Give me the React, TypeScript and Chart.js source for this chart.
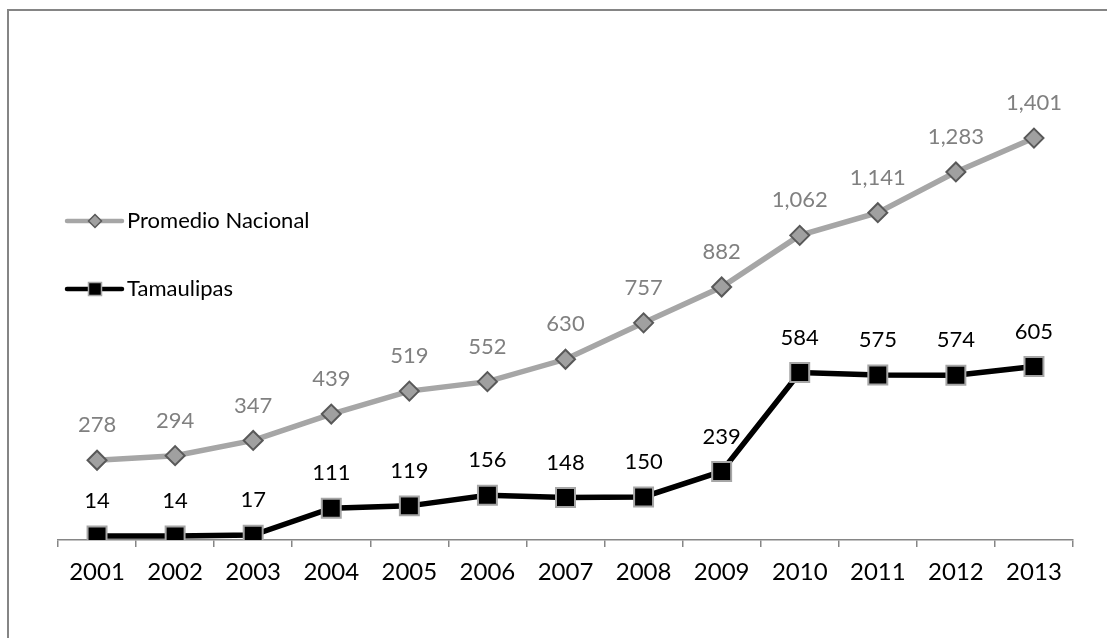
import React, { useEffect, useRef } from 'react';
import { Chart, registerables } from 'chart.js';

Chart.register(...registerables);

const years = ['2001', '2002', '2003', '2004', '2005', '2006', '2007', '2008', '2009', '2010', '2011', '2012', '2013'];
const promedioNacional = [278, 294, 347, 439, 519, 552, 630, 757, 882, 1062, 1141, 1283, 1401];
const tamaulipas = [14, 14, 17, 111, 119, 156, 148, 150, 239, 584, 575, 574, 605];
const seriesNames = ['Promedio Nacional', 'Tamaulipas'];

const FONT = "Lato, 'Open Sans', sans-serif";
const GRAY_LINE = '#a6a6a6';
const GRAY_LABEL = '#808080';

const dataLabelPlugin = {
  id: 'dataLabels',
  afterDatasetsDraw(chart: any) {
    const ctx = chart.ctx;
    ctx.save();
    ctx.font = `22px ${FONT}`;
    ctx.textAlign = 'center';
    ctx.textBaseline = 'middle';
    chart.data.datasets.forEach((ds: any, i: number) => {
      const meta = chart.getDatasetMeta(i);
      ctx.fillStyle = ds.labelColor;
      meta.data.forEach((pt: any, j: number) => {
        const v = ds.data[j] as number;
        ctx.fillText(v.toLocaleString('en-US'), pt.x, pt.y - 35);
      });
    });
    ctx.restore();
  },
};

const legendPlugin = {
  id: 'customLegend',
  afterDatasetsDraw(chart: any) {
    const ctx = chart.ctx;
    const rows = [
      { y: 221, ds: chart.data.datasets[0] },
      { y: 289, ds: chart.data.datasets[1] },
    ];
    ctx.save();
    rows.forEach((r) => {
      const x0 = 67;
      const x1 = 122;
      const cx = 95;
      ctx.strokeStyle = r.ds.borderColor;
      ctx.lineWidth = 4.5;
      ctx.lineCap = 'round';
      ctx.beginPath();
      ctx.moveTo(x0, r.y);
      ctx.lineTo(x1, r.y);
      ctx.stroke();
      ctx.fillStyle = r.ds.pointBackgroundColor;
      ctx.strokeStyle = r.ds.pointBorderColor;
      ctx.lineWidth = 1.5;
      ctx.beginPath();
      const s = 6.5;
      if (r.ds.pointStyle === 'rectRot') {
        ctx.moveTo(cx - s, r.y);
        ctx.lineTo(cx, r.y - s);
        ctx.lineTo(cx + s, r.y);
        ctx.lineTo(cx, r.y + s);
        ctx.closePath();
      } else {
        ctx.rect(cx - s, r.y - s, 2 * s, 2 * s);
      }
      ctx.fill();
      ctx.stroke();
      ctx.fillStyle = '#000000';
      ctx.font = `22px ${FONT}`;
      ctx.textAlign = 'left';
      ctx.textBaseline = 'middle';
      ctx.fillText(r.ds.label, 127, r.y);
    });
    ctx.restore();
  },
};

function LineChart() {
  const ref = useRef<HTMLCanvasElement | null>(null);
  useEffect(() => {
    if (!ref.current) return;
    const chart = new Chart(ref.current, {
      type: 'line',
      data: {
        labels: years,
        datasets: [
          {
            label: seriesNames[0],
            data: promedioNacional,
            borderColor: GRAY_LINE,
            borderWidth: 5.5,
            pointStyle: 'rectRot',
            pointRadius: 9.5,
            pointHoverRadius: 9.5,
            pointBackgroundColor: '#a0a0a0',
            pointBorderColor: '#595959',
            pointBorderWidth: 2,
            tension: 0,
            labelColor: GRAY_LABEL,
          } as any,
          {
            label: seriesNames[1],
            data: tamaulipas,
            borderColor: '#000000',
            borderWidth: 5.5,
            pointStyle: 'rect',
            pointRadius: 13.4,
            pointHoverRadius: 13.4,
            pointBackgroundColor: '#000000',
            pointBorderColor: '#a6a6a6',
            pointBorderWidth: 2,
            tension: 0,
            labelColor: '#000000',
          } as any,
        ],
      },
      options: {
        animation: false,
        responsive: false,
        maintainAspectRatio: false,
        events: [],
        layout: { padding: { left: 58, right: 34, top: 81, bottom: 0 } },
        plugins: {
          legend: { display: false },
          tooltip: { enabled: false },
          title: { display: false },
        },
        scales: {
          x: {
            offset: true,
            grid: {
              offset: true,
              drawOnChartArea: false,
              drawTicks: true,
              tickLength: 7,
              color: '#868686',
              lineWidth: 1.5,
            },
            border: { display: true, color: '#868686', width: 1.5 },
            ticks: {
              color: '#000000',
              font: { family: FONT, size: 24 },
              padding: 11,
              maxRotation: 0,
              autoSkip: false,
            },
            afterFit(scale: any) {
              scale.height = 98;
            },
          },
          y: {
            display: false,
            min: 0,
            max: 1600,
          },
        },
      },
      plugins: [dataLabelPlugin, legendPlugin],
    });
    return () => chart.destroy();
  }, []);
  return <canvas ref={ref} width={1107} height={638} style={{ position: 'absolute', left: 0, top: 0, width: 1107, height: 638 }} />;
}

export default function App() {
  return (
    <div style={{ position: 'fixed', left: 0, top: 0, width: 1107, height: 638, overflow: 'hidden', background: '#ffffff' }}>
      <div
        style={{
          position: 'absolute',
          left: 7,
          top: 9,
          width: 1200,
          height: 700,
          borderLeft: '2px solid #858585',
          borderTop: '2px solid #858585',
        }}
      />
      <LineChart />
    </div>
  );
}
